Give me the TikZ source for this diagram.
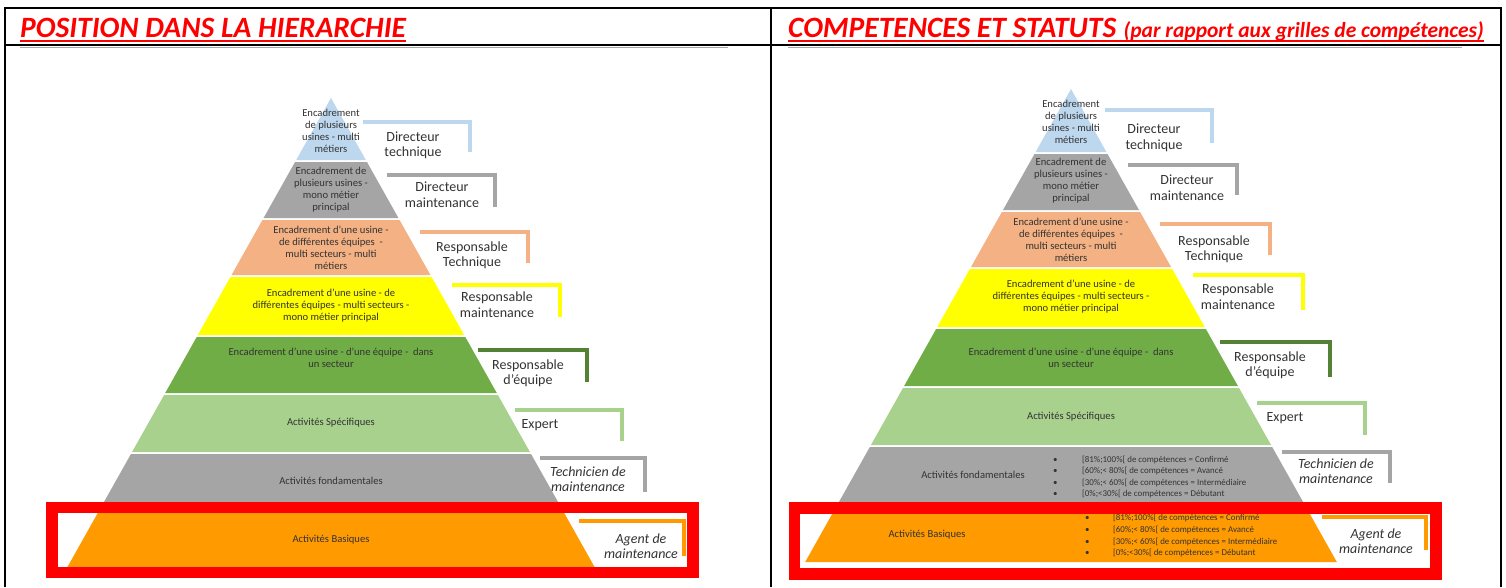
\documentclass[tikz,border=0pt]{standalone}
\usepackage{fontspec}
\setmainfont{Carlito}
\definecolor{cblue}{HTML}{BDD7EE}
\definecolor{cgrey}{HTML}{A5A5A5}
\definecolor{csalmon}{HTML}{F4B183}
\definecolor{cyellow}{HTML}{FFFF00}
\definecolor{cdkgreen}{HTML}{70AD47}
\definecolor{cdkgreenb}{HTML}{548235}
\definecolor{cltgreen}{HTML}{A9D18E}
\definecolor{corange}{HTML}{FF9A00}
\definecolor{ctext}{HTML}{333333}
\newcommand\pyrband[5]{%
  \fill[#5] ({#1-0.562*(#3-#2)},#3) -- ({#1+0.562*(#3-#2)},#3) -- ({#1+0.562*(#4-#2)},#4) -- ({#1-0.562*(#4-#2)},#4) -- cycle;}
\tikzset{
  tableline/.style={black, line width=2pt},
  titlefont/.style={font=\fontsize{29.5}{31}\selectfont\bfseries\itshape, text=red, inner sep=0pt},
  subtitlefont/.style={font=\fontsize{21.5}{23}\selectfont\bfseries\itshape, text=red, inner sep=0pt},
  uline/.style={red, line width=2.2pt},
  lvl/.style={font=\fontsize{10.6}{12}\selectfont, text=ctext, align=center, inner sep=0pt},
  lab/.style={font=\fontsize{14}{15.5}\selectfont, text=ctext, align=center, inner sep=0pt},
  labit/.style={lab, font=\fontsize{14}{15.5}\selectfont\itshape},
  bracketline/.style={line width=4.5pt, line cap=butt, line join=miter},
  bul/.style={font=\fontsize{8.9}{10}\selectfont, text=ctext, inner sep=0pt, anchor=base west},
  redbox/.style={red, line width=11.5pt}
}
\begin{document}
\begin{tikzpicture}[x=1pt,y=-1pt]
\useasboundingbox (0,0) rectangle (1506,587);
% table
\draw[tableline] (4,8) -- (1502,8);
\draw[tableline] (4,45) -- (1502,45);
\draw[tableline] (5,8) -- (5,587);
\draw[tableline] (771,8) -- (771,587);
\draw[tableline] (1501,8) -- (1501,587);
\draw[gray!70, line width=1.2pt] (20,47.5) -- (728,47.5);
\draw[gray!70, line width=1.2pt] (788,47.5) -- (1462,47.5);
% titles
\node[titlefont, anchor=base west] (t1) at (20,37) {POSITION DANS LA HIERARCHIE};
\draw[uline] ([yshift=-4pt]t1.base west) -- ([yshift=-4pt]t1.base east);
\node[titlefont, anchor=base west] (t2) at (788,37) {COMPETENCES ET STATUTS};
\node[subtitlefont, anchor=base west] (t3) at ([xshift=7pt]t2.base east) {(par rapport aux grilles de compétences)};
\draw[uline] ([yshift=-4pt]t2.base west) -- ([yshift=-4pt]t3.base east);

% ---------------- left pyramid ----------------
\pyrband{331}{98}{98}{160}{cblue}
\pyrband{331}{98}{162}{218}{cgrey}
\pyrband{331}{98}{220}{275}{csalmon}
\pyrband{331}{98}{277}{335}{cyellow}
\pyrband{331}{98}{337}{393}{cdkgreen}
\pyrband{331}{98}{395}{452}{cltgreen}
\pyrband{331}{98}{454}{510}{cgrey}
\pyrband{331}{98}{512}{567}{corange}

\node[lvl] (a1) at (331,131) {Encadrement\\de plusieurs\\usines - multi\\métiers};
\node[lvl] (a2) at (331,190) {Encadrement de\\plusieurs usines -\\mono métier\\principal};
\node[lvl] (a3) at (331,248) {Encadrement d’une usine -\\de différentes équipes~ -\\multi secteurs - multi\\métiers};
\node[lvl] (a4) at (331,306) {Encadrement d’une usine - de\\différentes équipes - multi secteurs -\\mono métier principal};
\node[lvl] (a5) at (331,358) {Encadrement d’une usine - d’une équipe -~ dans\\un secteur};
\node[lvl] (a6) at (331,423) {Activités Spécifiques};
\node[lvl] (a7) at (331,481) {Activités fondamentales};
\node[lvl] (a8) at (331,540) {Activités Basiques};

\draw[bracketline, cblue] (363,122) -- (470,122) -- (470,152);
\draw[bracketline, cgrey] (387,175) -- (495,175) -- (495,207);
\draw[bracketline, csalmon] (420,232) -- (528,232) -- (528,263);
\draw[bracketline, cyellow] (452,285) -- (560,285) -- (560,317);
\draw[bracketline, cdkgreenb] (478,350) -- (587,350) -- (587,382);
\draw[bracketline, cltgreen] (515,410) -- (622,410) -- (622,441);
\draw[bracketline, cgrey] (540,458) -- (645,458) -- (645,492);
\draw[bracketline, corange] (579,521) -- (684,521) -- (684,556);

\node[lab] (b1) at (413,145.5) {Directeur\\technique};
\node[lab] (b2) at (442,194.5) {Directeur\\maintenance};
\node[lab] (b3) at (472,255.5) {Responsable\\Technique};
\node[lab] (b4) at (497,304.5) {Responsable\\maintenance};
\node[lab] (b5) at (528,373.5) {Responsable\\d’équipe};
\node[lab] (b6) at (540,425) {Expert};
\node[labit] (b7) at (588,479) {Technicien de\\maintenance};
\node[labit] (b8) at (641,546) {Agent de\\maintenance};

\draw[redbox] (52,507.5) rectangle (693,572.5);

% ---------------- right pyramid ----------------
\pyrband{1071}{89}{89}{152}{cblue}
\pyrband{1071}{89}{154}{210}{cgrey}
\pyrband{1071}{89}{212}{267}{csalmon}
\pyrband{1071}{89}{269}{327}{cyellow}
\pyrband{1071}{89}{329}{386}{cdkgreen}
\pyrband{1071}{89}{388}{445}{cltgreen}
\pyrband{1071}{89}{447}{503}{cgrey}
\pyrband{1071}{89}{505}{562}{corange}

\node[lvl] (c1) at (1071,121.5) {Encadrement\\de plusieurs\\usines - multi\\métiers};
\node[lvl] (c2) at (1071,180.5) {Encadrement de\\plusieurs usines -\\mono métier\\principal};
\node[lvl] (c3) at (1071,239.5) {Encadrement d’une usine -\\de différentes équipes~ -\\multi secteurs - multi\\métiers};
\node[lvl] (c4) at (1071,297) {Encadrement d’une usine - de\\différentes équipes - multi secteurs -\\mono métier principal};
\node[lvl] (c5) at (1071,357.5) {Encadrement d’une usine - d’une équipe -~ dans\\un secteur};
\node[lvl] (c6) at (1071,417) {Activités Spécifiques};
\node[lvl] (c7) at (973,475) {Activités fondamentales};
\node[lvl] (c8) at (927,535) {Activités Basiques};

% bullets grey band
\node[bul] (g1b) at (1053,462) {•};
\node[bul] (g2b) at (1053,473.5) {•};
\node[bul] (g3b) at (1053,485) {•};
\node[bul] (g4b) at (1053,496.5) {•};
\node[bul] (g1) at (1082,462) {[81\%;100\%[ de compétences = Confirmé};
\node[bul] (g2) at (1082,473.5) {[60\%;< 80\%[ de compétences = Avancé};
\node[bul] (g3) at (1082,485) {[30\%;< 60\%[ de compétences = Intermédiaire};
\node[bul] (g4) at (1082,496.5) {[0\%;<30\%[ de compétences = Débutant};
% bullets orange band
\node[bul] (o1b) at (1085,520) {•};
\node[bul] (o2b) at (1085,532) {•};
\node[bul] (o3b) at (1085,544) {•};
\node[bul] (o4b) at (1085,555.5) {•};
\node[bul] (o1) at (1113,520) {[81\%;100\%[ de compétences = Confirmé};
\node[bul] (o2) at (1113,532) {[60\%;< 80\%[ de compétences = Avancé};
\node[bul] (o3) at (1113,544) {[30\%;< 60\%[ de compétences = Intermédiaire};
\node[bul] (o4) at (1113,555.5) {[0\%;<30\%[ de compétences = Débutant};

\draw[bracketline, cblue] (1105,110) -- (1212,110) -- (1212,143);
\draw[bracketline, cgrey] (1128,165) -- (1237,165) -- (1237,195);
\draw[bracketline, csalmon] (1160,224) -- (1270,224) -- (1270,255);
\draw[bracketline, cyellow] (1193,275) -- (1303,275) -- (1303,310);
\draw[bracketline, cdkgreenb] (1220,342) -- (1330,342) -- (1330,377);
\draw[bracketline, cltgreen] (1257,403) -- (1365,403) -- (1365,435);
\draw[bracketline, cgrey] (1282,452) -- (1390,452) -- (1390,483);
\draw[bracketline, corange] (1322,517) -- (1426,517) -- (1426,550);

\node[lab] (d1) at (1154,138) {Directeur\\technique};
\node[lab] (d2) at (1187,187.5) {Directeur\\maintenance};
\node[lab] (d3) at (1214,249.5) {Responsable\\Technique};
\node[lab] (d4) at (1238,296.5) {Responsable\\maintenance};
\node[lab] (d5) at (1270,365.5) {Responsable\\d’équipe};
\node[lab] (d6) at (1285,418) {Expert};
\node[labit] (d7) at (1336,471) {Technicien de\\maintenance};
\node[labit] (d8) at (1376,541) {Agent de\\maintenance};

\draw[redbox] (794.5,508) rectangle (1436,574);
\end{tikzpicture}
\end{document}
